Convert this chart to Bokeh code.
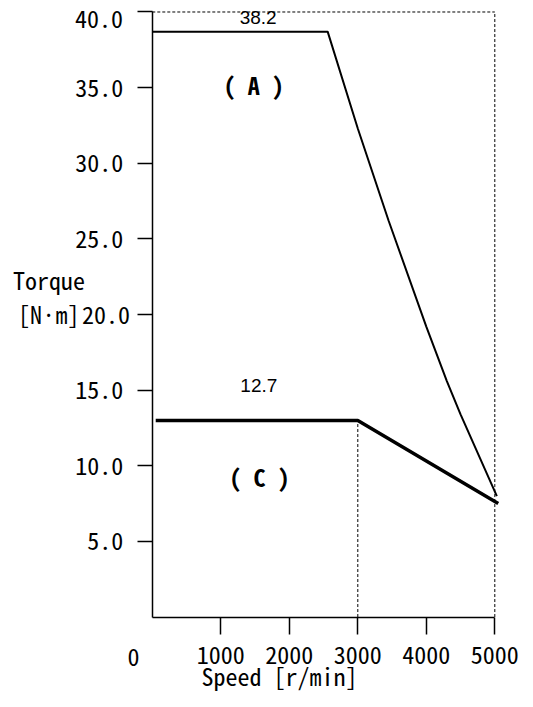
from bokeh.plotting import figure
from bokeh.models import Range1d, FixedTicker, Label
from bokeh.embed import file_html
from bokeh.resources import INLINE

# ---- data ----
speed_a = [0, 2560, 3000, 3450, 4000, 4300, 4500, 5030]
torque_a = [38.7, 38.7, 32.3, 26.2, 19.2, 15.6, 13.4, 8.0]

speed_c = [50, 3000, 5050]
torque_c = [13.0, 13.0, 7.5]

rated_speed = 3000
max_speed = 5000
torque_top = 40.0
rated_torque_c = 13.0

x_ticks = [1000, 2000, 3000, 4000, 5000]
x_tick_labels = ["1000", "2000", "3000", "4000", "5000"]
y_ticks = [5, 10, 15, 20, 25, 30, 35, 40]
y_tick_labels = ["5.0", "10.0", "15.0", "20.0", "25.0", "30.0", "35.0", "40.0"]

label_a_value = "38.2"
label_c_value = "12.7"
label_a = "( A )"
label_c = "( C )"

MONO = "'Noto Sans Mono CJK JP', 'Liberation Sans Narrow', monospace"
SANS = "'Liberation Sans', Arial, sans-serif"

p = figure(width=533, height=707, output_backend="svg", toolbar_location=None,
           x_range=Range1d(-2216, 5565), y_range=Range1d(-5.98, 40.76),
           min_border_left=0, min_border_right=0, min_border_top=0,
           min_border_bottom=0)
p.outline_line_color = None
p.xgrid.visible = False
p.ygrid.visible = False
p.background_fill_color = "white"
p.border_fill_color = "white"

# dashed guides
p.line([0, max_speed], [torque_top, torque_top], line_color="black", line_width=1, line_dash="3 2")
p.line([max_speed, max_speed], [0, torque_top], line_color="black", line_width=1, line_dash="3 2")
p.line([rated_speed, rated_speed], [0, rated_torque_c], line_color="black", line_width=1, line_dash="3 2")

# curves
p.line(speed_a, torque_a, line_color="black", line_width=2)
p.line(speed_c, torque_c, line_color="black", line_width=3.5)

# axes fixed at the origin, inside the frame
for ax in (p.xaxis[0], p.yaxis[0]):
    ax.axis_line_color = "black"
    ax.axis_line_width = 1.5
    ax.major_tick_line_color = "black"
    ax.major_tick_line_width = 1.5
    ax.minor_tick_line_color = None
    ax.major_tick_in = 0
    ax.major_label_text_font = MONO
    ax.major_label_text_font_size = "24px"
    ax.major_label_text_color = "black"

p.xaxis.fixed_location = 0
p.xaxis.ticker = FixedTicker(ticks=x_ticks)
p.xaxis.major_label_overrides = {t: s for t, s in zip(x_ticks, x_tick_labels)}
p.xaxis.bounds = (0, max_speed)
p.xaxis.major_tick_out = 17
p.xaxis.major_label_standoff = 12

p.yaxis.fixed_location = 0
p.yaxis.ticker = FixedTicker(ticks=y_ticks)
y_over = {t: s for t, s in zip(y_ticks, y_tick_labels)}
# these two labels sit slightly off their ticks in the reference; drawn below
y_over[40] = ""
y_over[20] = ""
p.yaxis.major_label_overrides = y_over
p.yaxis.bounds = (0, torque_top)
p.yaxis.major_tick_out = 15
p.yaxis.major_label_standoff = 14

def add_label(x, y, text, font, size, align="center", style="normal"):
    p.add_layout(Label(x=x, y=y, text=text, text_font=font, text_font_size=size,
                       text_align=align, text_baseline="middle", text_color="black",
                       text_font_style=style))

add_label(-428, 39.57, y_tick_labels[-1], MONO, "24px", align="right")
add_label(-326, 20.0, y_tick_labels[3], MONO, "24px", align="right")
add_label(-274, -2.645, "0", MONO, "24px")

add_label(1545, 39.64, label_a_value, SANS, "19px")
add_label(1555, 15.29, label_c_value, SANS, "19px")
add_label(1480, 35.2, label_a, MONO, "24px", style="bold")
add_label(1565, 9.26, label_c, MONO, "24px", style="bold")

add_label(718, -3.87, "Speed [r/min]", MONO, "24px", align="left")
add_label(-2034, 22.3, "Torque", MONO, "24px", align="left")
add_label(-1960, 20.1, "[N·m]", MONO, "24px", align="left")

open("out.html", "w").write(file_html(p, INLINE))
